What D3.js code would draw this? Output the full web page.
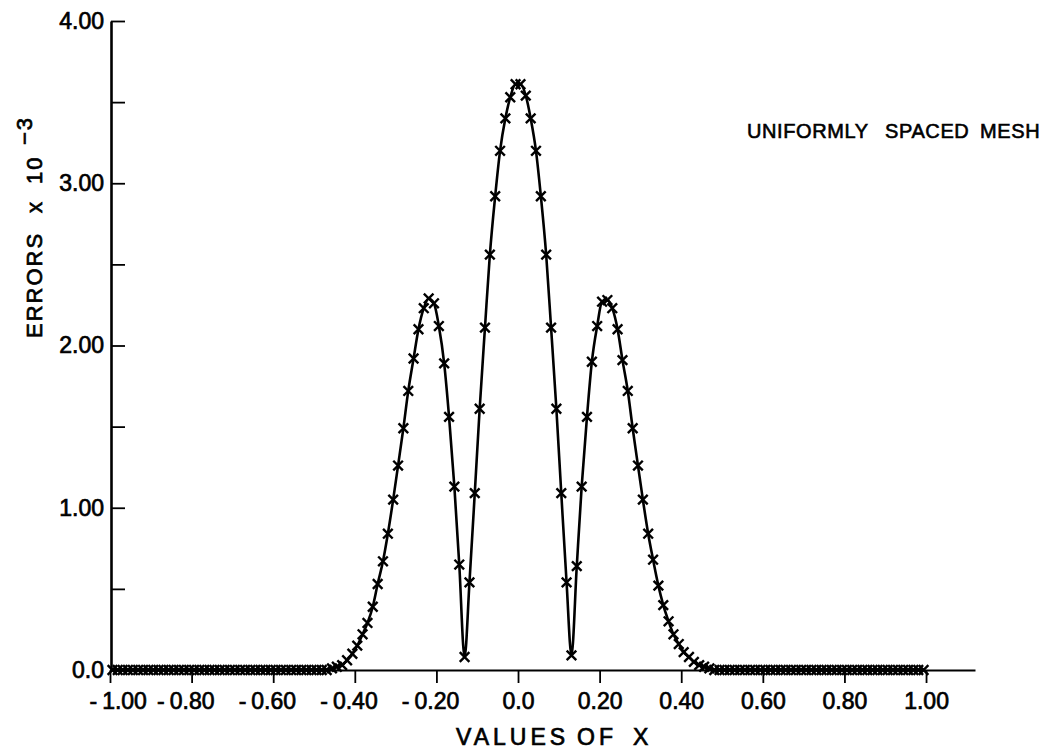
<!DOCTYPE html>
<html>
<head>
<meta charset="utf-8">
<script src="https://cdn.jsdelivr.net/npm/d3@7"></script>
<style>
  body { margin: 0; background: #fff; }
  svg { display: block; }
</style>
</head>
<body>
<div id="chart"></div>
<script>
// mesh points, x < 0 (left to right)
const meshXNeg = [
  -0.994, -0.981, -0.969, -0.956, -0.944, -0.931, -0.919, -0.906,
  -0.894, -0.881, -0.869, -0.856, -0.844, -0.831, -0.819, -0.806,
  -0.794, -0.781, -0.769, -0.756, -0.744, -0.731, -0.719, -0.706,
  -0.694, -0.681, -0.669, -0.656, -0.644, -0.631, -0.619, -0.606,
  -0.594, -0.581, -0.569, -0.556, -0.544, -0.531, -0.519, -0.506,
  -0.494, -0.481, -0.469, -0.456, -0.444, -0.431, -0.419, -0.406,
  -0.394, -0.381, -0.369, -0.356, -0.344, -0.331, -0.319, -0.306,
  -0.294, -0.281, -0.269, -0.256, -0.244, -0.231, -0.219, -0.206,
  -0.194, -0.181, -0.169, -0.156, -0.144, -0.131, -0.119, -0.106,
  -0.094, -0.081, -0.069, -0.056, -0.044, -0.031, -0.019, -0.006
];
// errors x 10^-3 at those points
const errNeg = [
  0.00, 0.00, 0.00, 0.00, 0.00, 0.00, 0.00, 0.00,
  0.00, 0.00, 0.00, 0.00, 0.00, 0.00, 0.00, 0.00,
  0.00, 0.00, 0.00, 0.00, 0.00, 0.00, 0.00, 0.00,
  0.00, 0.00, 0.00, 0.00, 0.00, 0.00, 0.00, 0.00,
  0.00, 0.00, 0.00, 0.00, 0.00, 0.00, 0.00, 0.00,
  0.00, 0.00, 0.00, 0.01, 0.02, 0.03, 0.06, 0.10,
  0.15, 0.22, 0.29, 0.39, 0.53, 0.67, 0.84, 1.05,
  1.26, 1.49, 1.72, 1.92, 2.10, 2.23, 2.29, 2.26,
  2.12, 1.89, 1.56, 1.13, 0.65, 0.08, 0.54, 1.09,
  1.61, 2.11, 2.56, 2.92, 3.20, 3.40, 3.53, 3.61
];
// mesh points, x > 0
const meshXPos = [
  0.006, 0.019, 0.031, 0.044, 0.056, 0.069, 0.081, 0.094,
  0.106, 0.119, 0.131, 0.144, 0.156, 0.169, 0.181, 0.194,
  0.206, 0.219, 0.231, 0.244, 0.256, 0.269, 0.281, 0.294,
  0.306, 0.319, 0.331, 0.344, 0.356, 0.369, 0.381, 0.394,
  0.406, 0.419, 0.431, 0.444, 0.456, 0.469, 0.481, 0.494,
  0.506, 0.519, 0.531, 0.544, 0.556, 0.569, 0.581, 0.594,
  0.606, 0.619, 0.631, 0.644, 0.656, 0.669, 0.681, 0.694,
  0.706, 0.719, 0.731, 0.744, 0.756, 0.769, 0.781, 0.794,
  0.806, 0.819, 0.831, 0.844, 0.856, 0.869, 0.881, 0.894,
  0.906, 0.919, 0.931, 0.944, 0.956, 0.969, 0.981, 0.994
];
const errPos = [
  3.61, 3.54, 3.40, 3.20, 2.92, 2.56, 2.11, 1.61,
  1.09, 0.54, 0.09, 0.64, 1.13, 1.56, 1.90, 2.12,
  2.27, 2.28, 2.23, 2.10, 1.91, 1.72, 1.49, 1.26,
  1.05, 0.84, 0.68, 0.52, 0.40, 0.30, 0.22, 0.16,
  0.11, 0.08, 0.05, 0.03, 0.02, 0.01, 0.00, 0.00,
  0.00, 0.00, 0.00, 0.00, 0.00, 0.00, 0.00, 0.00,
  0.00, 0.00, 0.00, 0.00, 0.00, 0.00, 0.00, 0.00,
  0.00, 0.00, 0.00, 0.00, 0.00, 0.00, 0.00, 0.00,
  0.00, 0.00, 0.00, 0.00, 0.00, 0.00, 0.00, 0.00,
  0.00, 0.00, 0.00, 0.00, 0.00, 0.00, 0.00, 0.00
];

const xTickValues = [-1, -0.8, -0.6, -0.4, -0.2, 0, 0.2, 0.4, 0.6, 0.8, 1];
const xTickLabels = ['-1.00', '-0.80', '-0.60', '-0.40', '-0.20', '0.0', '0.20', '0.40', '0.60', '0.80', '1.00'];
const yTickValues = [0, 0.5, 1, 1.5, 2, 2.5, 3, 3.5, 4];
const yTickLabels = ['0.0', '', '1.00', '', '2.00', '', '3.00', '', '4.00'];

const FONT = '"Liberation Sans", Arial, sans-serif';
const W = 1048, H = 754;

const svg = d3.select('#chart').append('svg')
    .attr('width', W).attr('height', H)
    .attr('font-family', FONT);

svg.append('rect').attr('width', W).attr('height', H).attr('fill', '#fff');

// lettering on the original is inked, so give text a thin outline
function inked(sel, w) {
    return sel.attr('fill', '#000').attr('stroke', '#000').attr('stroke-width', w || 0.7);
}

const x = d3.scaleLinear().domain([-1, 1.12]).range([110, 975]);
const y = d3.scaleLinear().domain([0, 4]).range([670, 21]);

// X axis, ticks hanging below
const xAxis = svg.append('g')
    .attr('transform', `translate(0,${y(0)})`)
    .call(d3.axisBottom(x)
        .tickValues(xTickValues)
        .tickSize(13).tickSizeOuter(0).tickPadding(10)
        .tickFormat((d, i) => xTickLabels[i]))
    .attr('font-family', null).attr('font-size', null);

xAxis.select('.domain').attr('stroke', '#000').attr('stroke-width', 2.2);
xAxis.selectAll('.tick line').attr('stroke', '#000').attr('stroke-width', 1.8);
inked(xAxis.selectAll('.tick text').attr('font-size', 23));

// negative labels: number centred on the tick, minus sign set off to the left
xAxis.selectAll('.tick').each(function(d, i) {
    const g = d3.select(this);
    const lab = xTickLabels[i];
    if (!lab.startsWith('-')) return;
    const t = g.select('text').text(lab.slice(1));
    const shift = i === 0 ? 14 : 0;
    t.attr('x', shift);
    const w = t.node().getComputedTextLength();
    inked(g.append('text')
        .attr('x', shift - w / 2 - 5)
        .attr('y', 23).attr('dy', '0.71em')
        .attr('text-anchor', 'end')
        .attr('font-size', 23)
        .text('-'));
});

// Y axis, ticks pointing inward
const yAxis = svg.append('g')
    .attr('transform', `translate(${x(-1) + 1},0)`)
    .call(d3.axisLeft(y)
        .tickValues(yTickValues)
        .tickSizeInner(-14).tickSizeOuter(0).tickPadding(7)
        .tickFormat((d, i) => yTickLabels[i]))
    .attr('font-family', null).attr('font-size', null);

yAxis.select('.domain').attr('stroke', '#000').attr('stroke-width', 2.6);
yAxis.selectAll('.tick line').attr('stroke', '#000').attr('stroke-width', 1.8);
inked(yAxis.selectAll('.tick text').attr('font-size', 23));

// curve + markers
const points = meshXNeg.map((v, i) => ({ x: v, e: errNeg[i] }))
    .concat(meshXPos.map((v, i) => ({ x: v, e: errPos[i] })));

const line = d3.line()
    .x(d => x(d.x))
    .y(d => y(d.e))
    .curve(d3.curveMonotoneX);

svg.append('path')
    .datum(points)
    .attr('d', line)
    .attr('fill', 'none')
    .attr('stroke', '#000')
    .attr('stroke-width', 2.6);

svg.selectAll('.mk')
    .data(points)
    .join('path')
    .attr('class', 'mk')
    .attr('d', d3.symbol(d3.symbolX, 62))
    .attr('transform', d => `translate(${x(d.x)},${y(d.e)})`)
    .attr('fill', 'none')
    .attr('stroke', '#000')
    .attr('stroke-width', 2.4);

// axis titles
const xt = inked(svg.append('text')
    .attr('y', 745)
    .attr('font-size', 23)
    .attr('letter-spacing', 4));
xt.append('tspan').attr('x', 456).text('VALUES');
xt.append('tspan').attr('x', 577).text('OF');
xt.append('tspan').attr('x', 633).text('X');

const yt = inked(svg.append('text')
    .attr('transform', 'translate(42,338) rotate(-90)')
    .attr('font-size', 22)
    .attr('letter-spacing', 2));
yt.append('tspan').attr('x', 0).text('ERRORS');
yt.append('tspan').attr('x', 125).text('x');
yt.append('tspan').attr('x', 154).text('10');
yt.append('tspan').attr('x', 193).attr('dy', -10).text('\u22123');

// annotation
const note = inked(svg.append('text')
    .attr('y', 138)
    .attr('font-size', 20)
    .attr('letter-spacing', 0.6), 0.6);
note.append('tspan').attr('x', 747).text('UNIFORMLY');
note.append('tspan').attr('x', 885).text('SPACED');
note.append('tspan').attr('x', 980).text('MESH');
</script>
</body>
</html>
